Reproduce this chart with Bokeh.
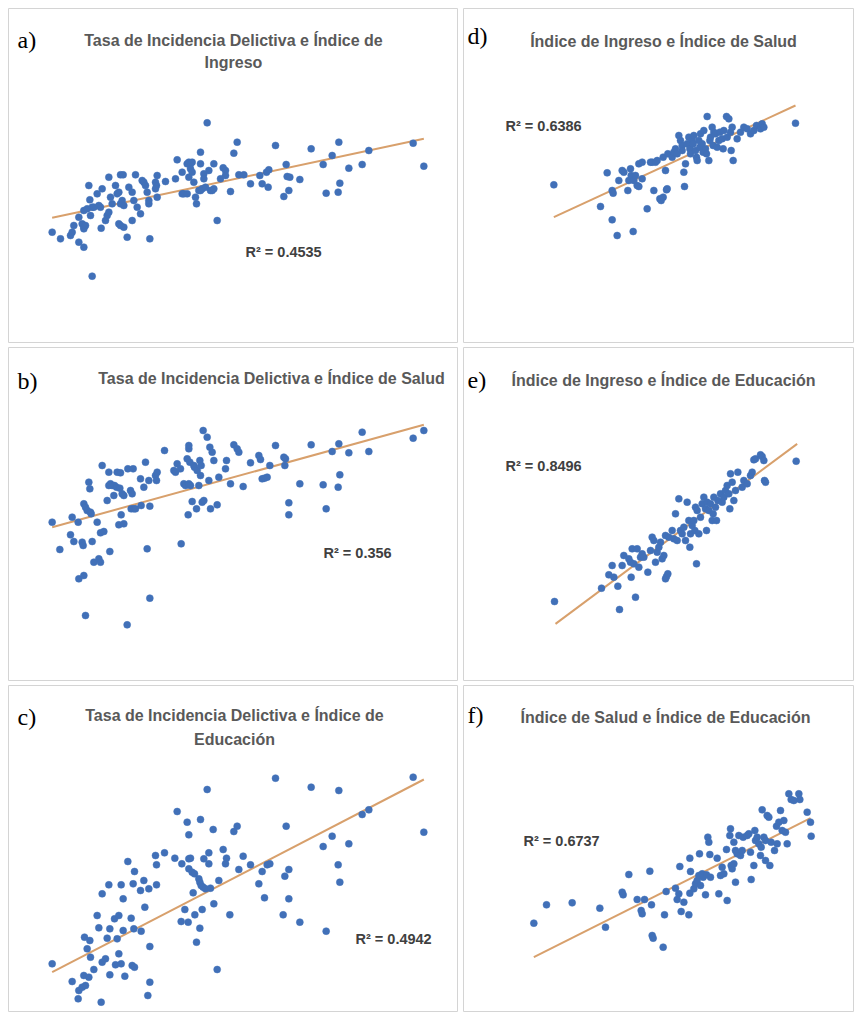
from bokeh.plotting import figure
from bokeh.layouts import row, column
from bokeh.models import Range1d
from bokeh.core.properties import value
from bokeh.embed import file_html
from bokeh.resources import INLINE

# ---------------- data (arbitrary reading units; vertical grows downward) ----
a_pts = [(35,365),(60,385),(90,375),(95,365),(100,345),(115,395),(130,410),(115,320),(125,340),(130,350),
         (130,355),(135,345),(130,300),(140,295),(150,315),(145,225),(148,268),(155,290),(160,290),(155,497),
         (170,250),(175,285),(180,290),(185,235),(182,353),(195,330),(200,315),(205,305),(205,200),(210,260),
         (215,280),(225,225),(230,250),(235,245),(240,280),(235,340),(240,345),(250,350),(240,193),(248,193),
         (245,270),(250,285),(260,380),(265,230),(275,330),(275,245),(280,270),(285,193),(290,290),(300,310),
         (305,210),(310,215),(315,225),(320,245),(325,280),(325,270),(328,385),(345,215),(348,225),(350,195),
         (350,260),(345,235),(375,213),(405,205),(410,148),(425,185),(425,250),(430,250),(440,250),(440,160),
         (445,155),(450,160),(455,155),(450,175),(455,185),(445,200),(460,215),(465,260),(468,280),(475,240),
         (480,240),(485,235),(480,125),(480,160),(490,190),(490,205),(495,230),(500,37),(505,180),(510,240),
         (515,240),(520,160),(520,235),(530,330),(540,205),(548,172),(555,180),(555,195),(570,243),(580,128),
         (590,95),(595,193),(610,193),(630,220),(658,195),(665,220),(678,185),(685,178),(683,230),(705,105),
         (730,258),(737,162),(740,198),(745,240),(748,200),(778,207),(812,115),(848,162),(857,248),(875,135),
         (895,95),(893,245),(898,218),(925,173),(965,162),(985,120),(1118,98),(1150,167)]
a_trend = [(35,322),(1150,85)]

b_pts = [(35,320),(58,402),(90,358),(95,305),(100,378),(113,320),(115,490),(125,380),(128,390),(130,480),
         (130,265),(135,275),(140,285),(145,200),(148,220),(150,290),(152,295),(135,600),(155,378),(160,440),
         (170,320),(175,430),(180,440),(180,352),(190,348),(185,150),(200,255),(205,170),(208,408),(205,210),
         (210,205),(215,210),(220,240),(222,210),(228,215),(230,170),(235,328),(238,218),(240,172),(242,298),
         (245,235),(250,325),(250,240),(260,628),(262,160),(270,225),(275,235),(278,160),(272,280),(280,280),
         (285,280),(300,190),(302,270),(310,215),(315,140),(320,400),(325,195),(328,272),(328,548),(345,180),
         (348,195),(350,170),(372,105),(400,165),(405,170),(410,145),(422,385),(420,160),(430,205),(435,210),
         (440,130),(445,100),(445,90),(448,140),(443,298),(445,205),(450,210),(455,258),(460,150),(462,155),
         (468,280),(470,165),(475,210),(478,135),(480,180),(482,150),(485,260),(490,255),(488,45),(500,65),
         (505,195),(510,280),(508,95),(515,110),(520,135),(530,268),(535,185),(555,160),(558,135),(570,205),
         (580,88),(590,100),(595,110),(608,213),(630,142),(655,120),(660,132),(665,190),(672,188),(680,185),
         (688,150),(705,90),(730,125),(735,130),(733,150),(745,262),(745,298),(778,205),(812,88),(848,208),
         (857,280),(875,108),(895,85),(893,215),(898,178),(925,112),(965,50),(985,108),(1118,68),(1150,45)]
b_trend = [(35,335),(1150,28)]

c_pts = [(35,595),(95,648),(113,700),(115,675),(125,665),(130,630),(132,515),(135,660),(140,550),(148,525),
         (150,575),(145,635),(160,612),(170,450),(175,487),(182,710),(185,385),(185,590),(195,580),(200,518),
         (205,358),(208,490),(208,628),(222,460),(225,598),(230,520),(235,450),(235,565),(242,358),(242,595),
         (248,400),(248,495),(253,632),(262,288),(272,458),(275,600),(278,355),(280,490),(282,605),(282,318),
         (300,375),(302,497),(310,345),(313,425),(322,690),(325,370),(328,543),(328,650),(345,270),(348,298),
         (348,358),(372,262),(403,278),(410,138),(422,468),(424,295),(433,432),(440,170),(443,470),(445,208),
         (445,280),(445,310),(450,278),(455,320),(458,382),(462,325),(463,448),(468,530),(475,340),(478,350),
         (480,162),(478,488),(482,360),(485,432),(488,365),(490,280),(495,370),(500,72),(505,262),(505,295),
         (510,368),(518,192),(520,415),(530,612),(535,345),(548,252),(555,295),(558,278),(568,448),(580,198),
         (590,182),(595,312),(608,272),(630,298),(655,355),(665,318),(672,397),(680,298),(688,295),(705,38),
         (728,448),(733,332),(737,182),(745,312),(745,400),(778,470),(812,65),(848,243),(857,497),(875,212),
         (895,75),(893,298),(898,350),(925,235),(965,147),(985,133),(1118,35),(1150,200)]
c_trend = [(35,620),(1150,42)]

d_pts = [(40,253),(180,318),(200,217),(215,358),(215,270),(218,278),(230,405),(235,240),(245,210),(250,215),
         (262,270),(265,240),(270,205),(272,225),(278,393),(280,240),(285,225),(290,255),(295,258),(295,190),
         (305,235),(305,185),(320,325),(330,185),(335,185),(340,270),(345,185),(350,180),(358,295),(362,300),
         (368,170),(368,290),(375,210),(378,268),(380,265),(382,160),(395,170),(400,155),(405,145),(410,160),
         (415,105),(420,120),(425,135),(425,150),(430,215),(432,258),(435,190),(440,130),(445,110),(448,145),
         (450,160),(455,120),(458,130),(460,105),(465,150),(468,170),(470,180),(475,120),(478,140),(480,100),
         (485,130),(488,155),(490,90),(495,145),(498,160),(500,48),(505,180),(508,120),(510,110),(515,80),
         (518,135),(520,95),(525,100),(530,140),(535,120),(538,95),(545,115),(548,145),(550,90),(558,48),
         (560,110),(565,55),(570,95),(572,150),(575,80),(578,180),(590,115),(600,95),(610,80),(620,85),
         (630,100),(640,90),(648,75),(660,85),(665,70),(670,80),(765,68)]
d_trend = [(40,350),(765,15)]

e_pts = [(42,513),(183,473),(205,433),(215,405),(220,440),(232,467),(237,537),(245,405),(250,375),(265,385),
         (270,395),(272,440),(275,355),(280,400),(285,500),(290,355),(295,410),(300,380),(305,370),(310,380),
         (322,425),(330,360),(335,320),(340,330),(345,395),(350,365),(355,350),(360,335),(365,385),(370,375),
         (375,445),(378,438),(382,430),(375,315),(385,320),(395,300),(400,325),(405,250),(410,330),(415,205),
         (420,300),(425,310),(430,290),(435,330),(440,215),(445,270),(448,350),(450,310),(455,285),(460,270),
         (463,300),(465,230),(468,400),(470,240),(475,310),(480,260),(485,220),(490,200),(495,235),(498,300),
         (500,215),(505,240),(510,220),(515,270),(518,250),(520,200),(525,230),(528,270),(532,210),(540,190),
         (545,215),(550,200),(555,180),(560,165),(565,190),(568,235),(570,130),(575,155),(580,210),(585,180),
         (592,125),(605,170),(610,150),(620,160),(630,135),(635,125),(640,88),(645,85),(660,73),(665,78),
         (670,90),(672,150),(675,155),(767,92)]
e_trend = [(45,580),(770,40)]

f_pts = [(40,443),(78,388),(155,382),(238,398),(255,455),(305,350),(308,358),(325,297),(350,372),(362,405),
         (365,415),(372,372),(388,287),(393,388),(395,480),(398,488),(428,515),(432,418),(437,348),(465,338),
         (470,372),(475,355),(478,273),(482,408),(490,380),(505,418),(508,248),(510,288),(508,353),(520,340),
         (525,325),(530,315),(535,300),(537,235),(540,330),(545,295),(548,305),(555,358),(558,298),(562,185),
         (565,200),(568,237),(570,305),(590,248),(595,355),(600,300),(605,275),(610,295),(620,375),(618,222),
         (628,180),(630,160),(632,270),(635,280),(640,265),(645,320),(640,200),(645,225),(650,235),(655,180),
         (660,240),(665,225),(668,185),(680,180),(685,175),(690,230),(692,312),(700,270),(703,165),(705,195),
         (710,185),(715,205),(720,240),(722,215),(725,103),(730,185),(735,195),(735,255),(740,120),(745,125),
         (748,270),(752,200),(762,225),(768,152),(770,205),(775,140),(780,105),(785,165),(790,135),(795,170),
         (800,205),(805,55),(812,72),(820,75),(835,55),(838,72),(860,110),(870,140),(872,182)]
f_trend = [(40,545),(870,128)]

labels = ["a)", "b)", "c)", "d)", "e)", "f)"]
titles = [["Tasa de Incidencia Delictiva e Índice de", "Ingreso"],
          ["Tasa de Incidencia Delictiva e Índice de Salud"],
          ["Tasa de Incidencia Delictiva e Índice de", "Educación"],
          ["Índice de Ingreso e Índice de Salud"],
          ["Índice de Ingreso e Índice de Educación"],
          ["Índice de Salud e Índice de Educación"]]
r2_texts = ["R² = 0.4535", "R² = 0.356", "R² = 0.4942", "R² = 0.6386", "R² = 0.8496", "R² = 0.6737"]

# ---------------- layout (page pixel geometry) ----------------
SANS = value("Liberation Sans")
SERIF = value("Liberation Serif")
PT_COLOR = "#4170b8"
TREND_COLOR = "#d8a06c"
MARGIN = 8

panels = [
    # box(left, top, w, h) in page px, origin of reading units, label(x, baseline), title(cx, baselines), r2(x, baseline)
    dict(pts=a_pts, trend=a_trend, box=(8, 8, 450, 335), org=(40, 110), lab=(17, 39), tcx=233, tby=[40, 62], r2=(245, 251)),
    dict(pts=b_pts, trend=b_trend, box=(8, 347, 450, 334), org=(40, 415), lab=(17, 380), tcx=271, tby=[378], r2=(323, 552)),
    dict(pts=c_pts, trend=c_trend, box=(8, 685, 450, 327), org=(40, 765), lab=(17, 716), tcx=234, tby=[715, 739], r2=(355, 938)),
    dict(pts=d_pts, trend=d_trend, box=(463, 8, 391, 335), org=(540, 100), lab=(467, 35), tcx=663, tby=[41], r2=(505, 125)),
    dict(pts=e_pts, trend=e_trend, box=(463, 347, 391, 334), org=(540, 430), lab=(467, 379), tcx=663, tby=[380], r2=(505, 465)),
    dict(pts=f_pts, trend=f_trend, box=(463, 685, 391, 327), org=(520, 775), lab=(467, 714), tcx=665, tby=[717], r2=(523, 840)),
]

S = 3.0  # reading units per page pixel


def make_panel(i):
    P = panels[i]
    left, top, w, h = P["box"]
    ox, oy = P["org"]
    conv = lambda px, py: ((px - ox) * S, (py - oy) * S)
    x0, y0 = conv(left, top)
    x1, y1 = conv(left + w, top + h)
    p = figure(width=w, height=h, output_backend="svg", toolbar_location=None,
               x_range=Range1d(x0, x1), y_range=Range1d(y1, y0),
               x_axis_location=None, y_axis_location=None, min_border=0,
               background_fill_color="white", border_fill_color="white",
               outline_line_color="#d4d4d4", outline_line_width=1)
    p.grid.visible = False

    xs = [q[0] for q in P["pts"]]
    ys = [q[1] for q in P["pts"]]
    tx = [q[0] for q in P["trend"]]
    ty = [q[1] for q in P["trend"]]
    p.line(tx, ty, line_color=TREND_COLOR, line_width=2)
    p.scatter(xs, ys, size=7, fill_color=PT_COLOR, line_color=PT_COLOR, line_width=0.5)

    lx, ly = conv(*P["lab"])
    p.text(x=[lx], y=[ly], text=[labels[i]], text_font=SERIF, text_font_size="24px",
           text_color="#000000", text_align="left", text_baseline="alphabetic")

    for line, by in zip(titles[i], P["tby"]):
        cx, cy = conv(P["tcx"], by)
        p.text(x=[cx], y=[cy], text=[line], text_font=SANS, text_font_size="16px",
               text_font_style="bold", text_color="#595959", text_align="center",
               text_baseline="alphabetic")

    rx, ry = conv(*P["r2"])
    p.text(x=[rx], y=[ry], text=[r2_texts[i]], text_font=SANS, text_font_size="14.5px",
           text_font_style="bold", text_color="#404040", text_align="left",
           text_baseline="alphabetic")
    return p


figs = [make_panel(i) for i in range(6)]
layout = column(
    row(figs[0], figs[3], spacing=5),
    row(figs[1], figs[4], spacing=5),
    row(figs[2], figs[5], spacing=5),
    spacing=4,
    margin=(MARGIN, 0, 0, MARGIN),
)

open("out.html", "w").write(file_html(layout, INLINE))
